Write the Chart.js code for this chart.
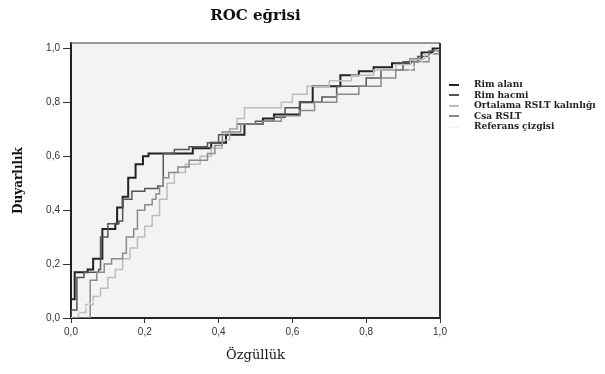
<!DOCTYPE html>
<html>
<head>
<meta charset="utf-8">
<script src="https://cdn.jsdelivr.net/npm/chart.js@4"></script>
<style>
  html, body { margin: 0; padding: 0; background: #fff; }
  #kutu { position: relative; width: 605px; height: 374px; }
  #lejant { position: absolute; left: 449px; top: 79px; font: bold 9px "DejaVu Serif", serif; color: #222; }
  .satir { height: 10.5px; line-height: 10.5px; white-space: nowrap; }
  .cizgi { display: inline-block; width: 10px; height: 0; border-top: 2px solid; vertical-align: middle; margin-right: 15px; }
</style>
</head>
<body>
<div id="kutu">
  <canvas id="roc" width="605" height="374"></canvas>
  <div id="lejant"></div>
</div>
<script>
// eksen etiketleri
const xTikler = [0, 0.2, 0.4, 0.6, 0.8, 1.0];
const yTikler = [0, 0.2, 0.4, 0.6, 0.8, 1.0];
const tikEtiketleri = ["0,0", "0,2", "0,4", "0,6", "0,8", "1,0"];

// seriler: [x, y] köşe noktaları (önce yatay, sonra dikey basamak)
const rimAlani = [[0,0],[0,0.07],[0.01,0.17],[0.045,0.18],[0.06,0.22],[0.085,0.33],[0.12,0.35],[0.125,0.41],
  [0.14,0.45],[0.155,0.52],[0.175,0.57],[0.195,0.60],[0.21,0.61],[0.33,0.63],[0.38,0.65],[0.42,0.68],
  [0.47,0.72],[0.52,0.74],[0.55,0.755],[0.62,0.80],[0.655,0.86],[0.73,0.90],[0.78,0.915],[0.82,0.93],
  [0.87,0.945],[0.92,0.96],[0.95,0.985],[0.98,1.0],[1,1]];
const rimHacmi = [[0,0],[0,0.03],[0.016,0.15],[0.035,0.17],[0.075,0.18],[0.08,0.30],[0.10,0.35],[0.13,0.36],
  [0.14,0.44],[0.165,0.47],[0.20,0.48],[0.235,0.49],[0.25,0.61],[0.28,0.625],[0.32,0.635],[0.37,0.65],
  [0.40,0.68],[0.43,0.70],[0.45,0.72],[0.50,0.73],[0.55,0.745],[0.58,0.78],[0.62,0.80],[0.68,0.82],
  [0.72,0.86],[0.80,0.89],[0.84,0.92],[0.90,0.95],[0.94,0.97],[0.97,0.99],[1,1]];
const ortalamaRslt = [[0,0],[0.01,0],[0.02,0.02],[0.04,0.05],[0.06,0.08],[0.08,0.11],[0.10,0.15],[0.12,0.18],
  [0.14,0.22],[0.16,0.26],[0.18,0.30],[0.20,0.34],[0.22,0.38],[0.24,0.44],[0.26,0.50],[0.28,0.54],
  [0.31,0.57],[0.35,0.60],[0.38,0.63],[0.41,0.66],[0.43,0.70],[0.45,0.74],[0.47,0.78],[0.57,0.80],
  [0.60,0.83],[0.64,0.86],[0.70,0.88],[0.76,0.90],[0.82,0.92],[0.88,0.94],[0.92,0.96],[0.96,0.98],[1,1]];
const csaRslt = [[0,0],[0.052,0],[0.052,0.14],[0.07,0.17],[0.09,0.20],[0.11,0.22],[0.14,0.24],[0.15,0.30],
  [0.17,0.33],[0.18,0.40],[0.20,0.42],[0.22,0.44],[0.23,0.46],[0.24,0.49],[0.25,0.52],[0.265,0.54],
  [0.29,0.56],[0.32,0.585],[0.37,0.61],[0.39,0.64],[0.41,0.69],[0.46,0.72],[0.52,0.73],[0.57,0.75],
  [0.62,0.77],[0.66,0.80],[0.72,0.83],[0.78,0.86],[0.84,0.89],[0.88,0.92],[0.93,0.95],[0.97,0.98],[1,1]];
const referans = [[0,0],[1,1]];

const SERILER = [
  { ad: "Rim alanı",               veri: rimAlani,     renk: "#222222", kalinlik: 2 },
  { ad: "Rim hacmi",               veri: rimHacmi,     renk: "#555555", kalinlik: 1.5 },
  { ad: "Ortalama RSLT kalınlığı", veri: ortalamaRslt, renk: "#bdbdbd", kalinlik: 1.5 },
  { ad: "Csa RSLT",                veri: csaRslt,      renk: "#8a8a8a", kalinlik: 1.5 },
  { ad: "Referans çizgisi",        veri: referans,     renk: "#f5f5f5", kalinlik: 1, duz: true },
];

// çizim alanı arka planı ve çerçeve
const cerceve = {
  id: "cerceve",
  beforeDraw(chart) {
    const { ctx, chartArea: a } = chart;
    ctx.save();
    ctx.fillStyle = "#f3f3f3";
    ctx.fillRect(a.left, a.top, a.right - a.left, a.bottom - a.top);
    ctx.restore();
  },
  afterDraw(chart) {
    const { ctx, chartArea: a } = chart;
    ctx.save();
    ctx.strokeStyle = "#777";
    ctx.lineWidth = 1.5;
    ctx.beginPath(); ctx.moveTo(a.left, a.top); ctx.lineTo(a.right, a.top); ctx.stroke();
    ctx.strokeStyle = "#333";
    ctx.lineWidth = 2;
    ctx.beginPath(); ctx.moveTo(a.right, a.top); ctx.lineTo(a.right, a.bottom); ctx.stroke();
    ctx.restore();
  }
};

const tikFont = { family: "'Liberation Sans', Arial, sans-serif", size: 10 };

new Chart(document.getElementById("roc"), {
  type: "line",
  data: {
    datasets: SERILER.map(s => ({
      label: s.ad,
      data: s.veri.map(([x, y]) => ({ x, y })),
      borderColor: s.renk,
      borderWidth: s.kalinlik,
      stepped: s.duz ? false : "before",
      pointRadius: 0,
      fill: false,
    })).reverse()
  },
  options: {
    responsive: false,
    animation: false,
    layout: { padding: { right: 165 } },
    plugins: {
      legend: { display: false },
      tooltip: { enabled: false },
      title: {
        display: true, text: "ROC eğrisi", fullSize: false, color: "#111",
        font: { family: "'DejaVu Serif', serif", weight: "bold", size: 15 },
        padding: { top: 7, bottom: 18 }
      }
    },
    scales: {
      x: {
        type: "linear", min: 0, max: 1,
        afterBuildTicks: sc => { sc.ticks = xTikler.map(v => ({ value: v })); },
        afterFit: sc => { sc.height = 56; },
        ticks: { callback: (v, i) => tikEtiketleri[i], font: tikFont, color: "#333", padding: 3, maxRotation: 0 },
        grid: { drawOnChartArea: false, drawTicks: true, tickLength: 5, color: "#333" },
        border: { display: true, color: "#222", width: 2 },
        title: {
          display: true, text: "Özgüllük", color: "#111",
          font: { family: "'DejaVu Serif', serif", size: 13 },
          padding: { top: 0, bottom: 11 }
        }
      },
      y: {
        type: "linear", min: 0, max: 1.02,
        afterBuildTicks: sc => { sc.ticks = yTikler.map(v => ({ value: v })); },
        afterFit: sc => { sc.width = 71; },
        ticks: { callback: (v, i) => tikEtiketleri[i], font: tikFont, color: "#333", padding: 3 },
        grid: { drawOnChartArea: false, drawTicks: true, tickLength: 8, color: "#333" },
        border: { display: true, color: "#222", width: 2 },
        title: {
          display: true, text: "Duyarlılık", color: "#111",
          font: { family: "'DejaVu Serif', serif", weight: "bold", size: 12 },
          padding: { top: 12, bottom: 0 }
        }
      }
    }
  },
  plugins: [cerceve]
});

// lejant (HTML)
const lejant = document.getElementById("lejant");
SERILER.forEach(s => {
  const satir = document.createElement("div");
  satir.className = "satir";
  satir.innerHTML = `<span class="cizgi" style="border-color:${s.renk}"></span>${s.ad}`;
  lejant.appendChild(satir);
});
</script>
</body>
</html>
